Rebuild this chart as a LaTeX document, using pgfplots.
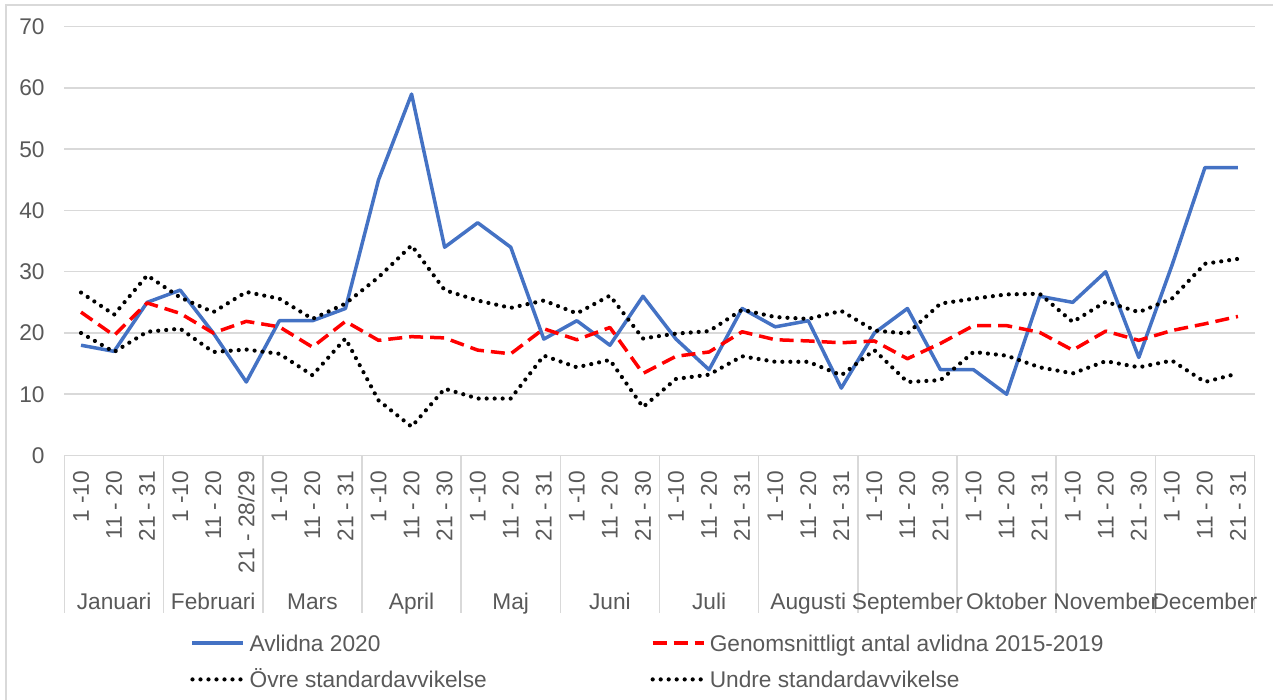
\documentclass[border=0pt]{standalone}
\usepackage{pgfplots}
\usepackage{pgfplotstable}
\pgfplotsset{compat=1.18}
\usepackage{fontspec}
\setmainfont{Liberation Sans}
\definecolor{txt}{HTML}{595959}
\definecolor{grd}{HTML}{D9D9D9}
\definecolor{blu}{HTML}{4472C4}
\pgfplotstableread{
x a m u l
0 18 23.4 26.6 20.0
1 17 19.6 23.0 16.9
2 25 24.9 29.4 20.2
3 27 23.2 25.8 20.7
4 20 20.0 23.4 16.9
5 12 21.9 26.7 17.3
6 22 21.0 25.6 16.6
7 22 17.7 22.3 13.1
8 24 21.9 24.8 19.1
9 45 18.8 29.1 9.0
10 59 19.4 34.3 4.7
11 34 19.2 27.0 10.9
12 38 17.2 25.3 9.3
13 34 16.6 24.1 9.3
14 19 20.7 25.3 16.3
15 22 18.9 23.2 14.4
16 18 20.9 26.1 15.6
17 26 13.4 19.1 7.9
18 19 16.2 19.9 12.5
19 14 16.9 20.3 13.2
20 24 20.2 23.8 16.2
21 21 18.9 22.6 15.3
22 22 18.7 22.3 15.3
23 11 18.4 23.6 13.1
24 20 18.7 20.4 17.2
25 24 15.8 19.9 12.0
26 14 18.3 24.8 12.3
27 14 21.2 25.6 16.9
28 10 21.2 26.3 16.3
29 26 20.1 26.4 14.4
30 25 17.2 21.8 13.4
31 30 20.3 25.1 15.4
32 16 18.8 23.4 14.4
33 31 20.4 25.6 15.5
34 47 21.5 31.3 12.0
35 47 22.7 32.1 13.4
}\data
\begin{document}
\begin{tikzpicture}[font=\fontsize{11.35}{13.6}\selectfont]
\path[use as bounding box] (0,0) rectangle (636.5pt,350pt);
\draw[grd, line width=0.75pt] (3pt,-5pt) -- (3pt,347.5pt) -- (645pt,347.5pt);
\begin{axis}[
  at={(32.25pt,122.25pt)}, anchor=south west,
  width=595pt, height=214.4pt, scale only axis,
  xmin=-0.5, xmax=35.5, ymin=0, ymax=70,
  ytick={0,10,...,70},
  xtick={0,...,35},
  xticklabels={1 -10,11 - 20,21 - 31,1 -10,11 - 20,21 - 28/29,1 -10,11 - 20,21 - 31,1 -10,11 - 20,21 - 30,1 -10,11 - 20,21 - 31,1 -10,11 - 20,21 - 30,1 -10,11 - 20,21 - 31,1 -10,11 - 20,21 - 31,1 -10,11 - 20,21 - 30,1 -10,11 - 20,21 - 31,1 -10,11 - 20,21 - 30,1 -10,11 - 20,21 - 31},
  major tick length=0pt,
  axis line style={draw=none},
  ymajorgrids, grid style={grd, line width=0.75pt},
  tick label style={text=txt},
  /pgf/number format/assume math mode=true,
  yticklabel style={anchor=east, inner sep=0pt, xshift=-9.75pt},
  xticklabel style={rotate=90, anchor=east, inner sep=0pt},
  xticklabel shift=7.5pt,
  clip=false,
  legend columns=2,
  legend cell align=left,
  legend style={draw=none, fill=none, inner sep=0pt, at={(axis description cs:0.10546,-0.4079)}, anchor=north west, row sep=5.85pt, column sep=0pt, nodes={inner xsep=2pt, inner ysep=0pt, text height=10.3pt, text depth=2pt, text=txt}},
  legend image code/.code={\draw[#1] (0pt,0pt) -- (25.5pt,0pt);},
]
\draw[grd, line width=0.75pt] (axis cs:-0.5,0) -- (axis cs:35.5,0);
\pgfplotsinvokeforeach{-0.5,2.5,5.5,8.5,11.5,14.5,17.5,20.5,23.5,26.5,29.5,32.5,35.5}{
  \draw[grd, line width=0.75pt] (axis cs:#1,0) -- ++(0pt,-78.75pt);
}
\node[text=txt, anchor=base] at ([yshift=-76.75pt]axis cs:1,0) {Januari};
\node[text=txt, anchor=base] at ([yshift=-76.75pt]axis cs:4,0) {Februari};
\node[text=txt, anchor=base] at ([yshift=-76.75pt]axis cs:7,0) {Mars};
\node[text=txt, anchor=base] at ([yshift=-76.75pt]axis cs:10,0) {April};
\node[text=txt, anchor=base] at ([yshift=-76.75pt]axis cs:13,0) {Maj};
\node[text=txt, anchor=base] at ([yshift=-76.75pt]axis cs:16,0) {Juni};
\node[text=txt, anchor=base] at ([yshift=-76.75pt]axis cs:19,0) {Juli};
\node[text=txt, anchor=base] at ([yshift=-76.75pt]axis cs:22,0) {Augusti};
\node[text=txt, anchor=base] at ([yshift=-76.75pt]axis cs:25,0) {September};
\node[text=txt, anchor=base] at ([yshift=-76.75pt]axis cs:28,0) {Oktober};
\node[text=txt, anchor=base] at ([yshift=-76.75pt]axis cs:31,0) {November};
\node[text=txt, anchor=base] at ([yshift=-76.75pt]axis cs:34,0) {December};
\addplot[blu, line width=1.75pt, line join=round] table[x=x, y=a] {\data};
\addlegendentry{\makebox[198.5pt][l]{Avlidna 2020}}
\addplot[red, line width=1.75pt, line join=round, dash pattern=on 7pt off 3.5pt] table[x=x, y=m] {\data};
\addlegendentry{Genomsnittligt antal avlidna 2015-2019}
\addplot[black, line width=2.1pt, line cap=round, dash pattern=on 0pt off 4pt] table[x=x, y=u] {\data};
\addlegendentry{\makebox[198.5pt][l]{Övre standardavvikelse}}
\addplot[black, line width=2.1pt, line cap=round, dash pattern=on 0pt off 4pt] table[x=x, y=l] {\data};
\addlegendentry{Undre standardavvikelse}
\end{axis}
\end{tikzpicture}
\end{document}
